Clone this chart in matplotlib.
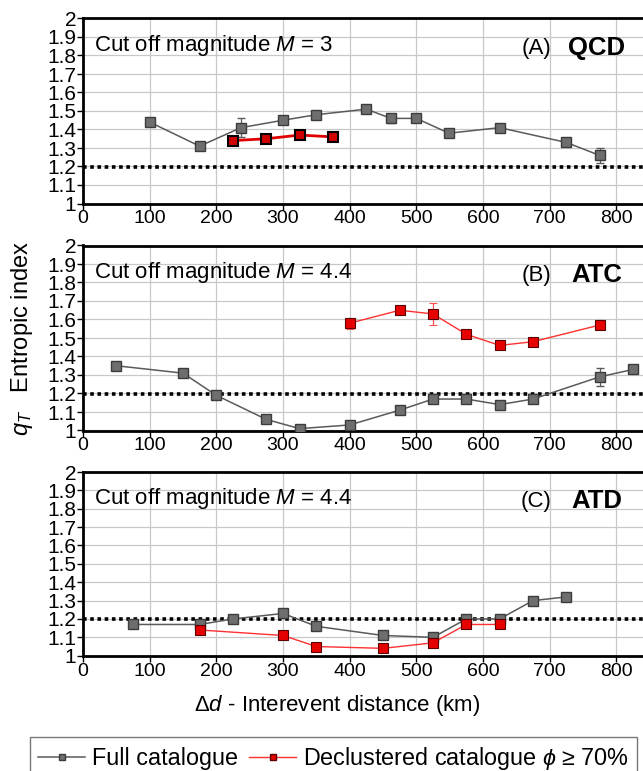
import numpy as np
import matplotlib
matplotlib.use('Agg')
import matplotlib.pyplot as plt
from matplotlib.lines import Line2D

# Fuente tipo Arial
fam = 'Liberation Sans'
plt.rcParams['font.family'] = [fam, 'DejaVu Sans']
plt.rcParams['mathtext.fontset'] = 'custom'
plt.rcParams['mathtext.rm'] = fam
plt.rcParams['mathtext.it'] = fam + ':italic'
plt.rcParams['mathtext.bf'] = fam + ':bold'

# Datos
# (A) QCD, M = 3
qcd_full_x = [100, 175, 237, 300, 350, 425, 462, 500, 549, 625, 725, 775]
qcd_full_q = [1.44, 1.31, 1.41, 1.45, 1.48, 1.51, 1.46, 1.46, 1.38, 1.41, 1.33, 1.26]
qcd_full_err = [0, 0, 0.05, 0, 0, 0, 0.025, 0.015, 0.02, 0, 0, 0.04]
qcd_decl_x = [225, 275, 325, 375]
qcd_decl_q = [1.34, 1.35, 1.37, 1.36]
qcd_decl_err = [0.01, 0.01, 0.01, 0.01]

# (B) ATC, M = 4.4
atc_full_x = [50, 150, 200, 275, 325, 400, 475, 525, 575, 625, 675, 775, 825]
atc_full_q = [1.35, 1.31, 1.19, 1.06, 1.01, 1.03, 1.11, 1.17, 1.17, 1.14, 1.17, 1.29, 1.33]
atc_full_err = [0, 0, 0, 0, 0, 0, 0, 0, 0, 0, 0, 0.05, 0]
atc_decl_x = [400, 475, 525, 575, 625, 675, 775]
atc_decl_q = [1.58, 1.65, 1.63, 1.52, 1.46, 1.48, 1.57]
atc_decl_err = [0.03, 0.01, 0.06, 0.01, 0.01, 0.01, 0.01]

# (C) ATD, M = 4.4
atd_full_x = [75, 175, 225, 300, 350, 450, 525, 575, 625, 675, 725]
atd_full_q = [1.17, 1.17, 1.20, 1.23, 1.16, 1.11, 1.10, 1.20, 1.20, 1.30, 1.32]
atd_decl_x = [175, 300, 350, 450, 525, 575, 625]
atd_decl_q = [1.14, 1.11, 1.05, 1.04, 1.07, 1.17, 1.17]

panels = [
    ('(A)', 'QCD', '3', qcd_full_x, qcd_full_q, qcd_full_err, qcd_decl_x, qcd_decl_q, qcd_decl_err),
    ('(B)', 'ATC', '4.4', atc_full_x, atc_full_q, atc_full_err, atc_decl_x, atc_decl_q, atc_decl_err),
    ('(C)', 'ATD', '4.4', atd_full_x, atd_full_q, None, atd_decl_x, atd_decl_q, None),
]

W, H = 643, 771
fig = plt.figure(figsize=(W / 100, H / 100), dpi=100)

# posiciones en pixeles (top, bottom) de cada panel
pos = [(18.5, 203.5), (245.5, 430.5), (472, 655.7)]
left_px = 83
width_px = 600  # 0..900 km, el borde derecho queda fuera de la imagen

gray_line = '#5a5a5a'
gray_fill = '#6e6e6e'
gray_edge = '#3c3c3c'
red_fill = '#e60000'
red_edge = '#5a0000'

for i, (lab, name, mag, fx, fq, ferr, dx, dq, derr) in enumerate(panels):
    top, bot = pos[i]
    ax = fig.add_axes([left_px / W, 1 - bot / H, width_px / W, (bot - top) / H])
    ax.set_xlim(0, 900)
    ax.set_ylim(1, 2)
    ax.set_xticks(np.arange(0, 801, 100))
    ax.set_xticks([900], minor=True)
    ax.set_yticks(np.arange(1, 2.01, 0.1))
    ax.set_yticklabels(['1', '1.1', '1.2', '1.3', '1.4', '1.5', '1.6', '1.7', '1.8', '1.9', '2'])
    ax.grid(True, color='#c8c8c8', lw=0.9)
    ax.set_axisbelow(True)
    ax.tick_params(axis='x', labelsize=14, length=4, width=1, pad=1)
    ax.tick_params(axis='y', labelsize=15, length=4, width=1, pad=1)
    for s in ax.spines.values():
        s.set_linewidth(2)

    ax.axhline(1.2, color='black', ls=(0, (1, 1)), lw=2.6, zorder=2)

    ax.errorbar(fx, fq, yerr=ferr, color=gray_line, lw=1.1, marker='s', ms=7,
                mfc=gray_fill, mec=gray_edge, mew=1, ecolor=gray_line, elinewidth=0.9,
                capsize=3, zorder=3)
    if i == 0:
        ax.errorbar(dx, dq, yerr=derr, color='#e00000', lw=2, marker='s', ms=7,
                    mfc='#d00000', mec='black', mew=1.5, ecolor='#e00000', elinewidth=0.8,
                    capsize=2, zorder=4)
    else:
        ax.errorbar(dx, dq, yerr=derr, color='#ff3030', lw=1, marker='s', ms=7,
                    mfc=red_fill, mec=red_edge, mew=0.8, ecolor='#ff5050', elinewidth=0.9,
                    capsize=3, zorder=4)

    ax.text(0.018, 0.855, 'Cut off magnitude $\\mathit{M}$ = ' + mag, transform=ax.transAxes,
            fontsize=16, va='center', ha='left')
    ax.text(680, 1.84, lab, fontsize=16, va='center', ha='center')
    ax.text(771, 1.84, name, fontsize=18.5, fontweight='bold', va='center', ha='center')

fig.text(22 / W, 1 - 338 / H, '$\\mathit{q}_{\\mathit{T}}$   Entropic index', rotation=90,
         fontsize=17, ha='center', va='center')
fig.text(337 / W, 1 - 705 / H, '$\\mathit{\\Delta d}$ - Interevent distance (km)',
         fontsize=16, ha='center', va='center')

h_full = Line2D([], [], color=gray_line, lw=1.1, marker='s', ms=5, mfc=gray_fill, mec=gray_edge)
h_decl = Line2D([], [], color='#ff3030', lw=1, marker='s', ms=5, mfc=red_fill, mec=red_edge)
leg = fig.legend([h_full, h_decl], ['Full catalogue', 'Declustered catalogue $\\mathit{\\phi}$ ≥ 70%'],
                 ncol=2, loc='upper left', bbox_to_anchor=(30 / W, 1 - 737 / H),
                 borderaxespad=0, fontsize=16.8, frameon=True, fancybox=False, handlelength=2,
                 handletextpad=0.3, columnspacing=0.5, borderpad=0.35)
leg.get_frame().set_edgecolor('#555555')
leg.get_frame().set_linewidth(1)

plt.savefig('out.png', dpi=100)
